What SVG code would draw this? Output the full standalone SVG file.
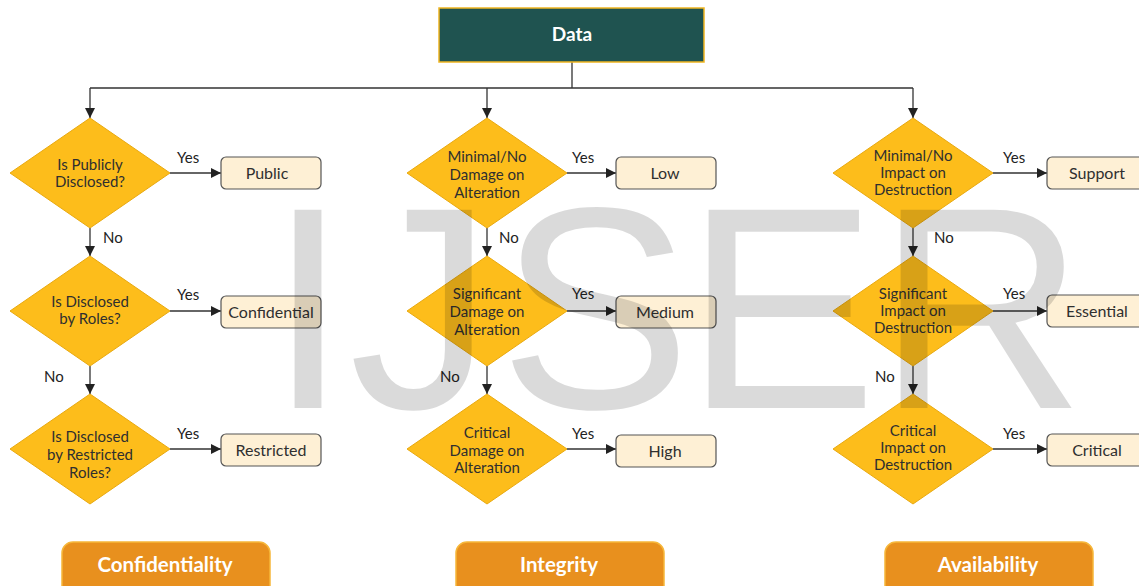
<svg xmlns="http://www.w3.org/2000/svg" width="1139" height="586" viewBox="0 0 1139 586">
  <style>
    .diamond { fill: #FDBD1B; stroke: #E9A90F; stroke-width: 1; }
    .box { fill: #FEF0D5; stroke: #555; stroke-width: 1.2; }
    .dtext { font-family: Lato, "Open Sans", sans-serif; font-size: 15px; fill: #2f2f2f; text-anchor: middle; }
    .btext { font-family: Lato, "Open Sans", sans-serif; font-size: 16px; fill: #2f2f2f; text-anchor: middle; }
    .lbl { font-family: Lato, "Open Sans", sans-serif; font-size: 15px; fill: #222; }
    .edge { stroke: #333; stroke-width: 1.3; fill: none; }
    .cat { fill: #E8901E; stroke: #F6B73A; stroke-width: 1.5; }
    .cattext { font-family: Lato, "Open Sans", sans-serif; font-size: 20.5px; font-weight: bold; fill: #fff; text-anchor: middle; }
  </style>
  <defs>
    <marker id="arrow" viewBox="0 0 10 10" refX="10" refY="5" markerWidth="10" markerHeight="10" markerUnits="userSpaceOnUse" orient="auto">
      <path d="M0,0 L10,5 L0,10 z" fill="#222"/>
    </marker>
  </defs>

  <!-- connectors -->
  <g id="connectors">
    <path class="edge" d="M572,62 V88 M90,88 H913"/>
    <path class="edge" d="M90,88 V118" marker-end="url(#arrow)"/>
    <path class="edge" d="M487,88 V118" marker-end="url(#arrow)"/>
    <path class="edge" d="M913,88 V118" marker-end="url(#arrow)"/>

    <!-- confidentiality column -->
    <path class="edge" d="M170,173 H221" marker-end="url(#arrow)"/>
    <path class="edge" d="M90,228 V256" marker-end="url(#arrow)"/>
    <path class="edge" d="M170,311 H221" marker-end="url(#arrow)"/>
    <path class="edge" d="M90,366 V394" marker-end="url(#arrow)"/>
    <path class="edge" d="M170,449 H221" marker-end="url(#arrow)"/>

    <!-- integrity column -->
    <path class="edge" d="M567,173 H616" marker-end="url(#arrow)"/>
    <path class="edge" d="M487,228 V256" marker-end="url(#arrow)"/>
    <path class="edge" d="M567,311 H616" marker-end="url(#arrow)"/>
    <path class="edge" d="M487,366 V394" marker-end="url(#arrow)"/>
    <path class="edge" d="M567,449 H616" marker-end="url(#arrow)"/>

    <!-- availability column -->
    <path class="edge" d="M993,173 H1047" marker-end="url(#arrow)"/>
    <path class="edge" d="M913,228 V256" marker-end="url(#arrow)"/>
    <path class="edge" d="M993,311 H1047" marker-end="url(#arrow)"/>
    <path class="edge" d="M913,366 V394" marker-end="url(#arrow)"/>
    <path class="edge" d="M993,449 H1047" marker-end="url(#arrow)"/>

    <!-- edge labels -->
    <text class="lbl" x="177" y="163">Yes</text>
    <text class="lbl" x="177" y="300">Yes</text>
    <text class="lbl" x="177" y="439">Yes</text>
    <text class="lbl" x="103" y="243">No</text>
    <text class="lbl" x="44" y="382">No</text>

    <text class="lbl" x="572" y="163">Yes</text>
    <text class="lbl" x="572" y="299">Yes</text>
    <text class="lbl" x="572" y="439">Yes</text>
    <text class="lbl" x="499" y="243">No</text>
    <text class="lbl" x="440" y="382">No</text>

    <text class="lbl" x="1003" y="163">Yes</text>
    <text class="lbl" x="1003" y="299">Yes</text>
    <text class="lbl" x="1003" y="439">Yes</text>
    <text class="lbl" x="934" y="243">No</text>
    <text class="lbl" x="875" y="382">No</text>
  </g>

  <!-- root -->
  <g id="data">
    <rect x="439" y="8" width="265" height="54" fill="#1F5350" stroke="#F0B520" stroke-width="1.5"/>
    <text x="572" y="41" font-family="Lato, 'Open Sans', sans-serif" font-size="19" font-weight="bold" fill="#fff" text-anchor="middle">Data</text>
  </g>

  <!-- confidentiality decisions -->
  <g id="c1">
    <polygon class="diamond" points="90,118 170,173 90,228 10,173"/>
    <text class="dtext" x="90" y="170">Is Publicly</text>
    <text class="dtext" x="90" y="187">Disclosed?</text>
  </g>
  <g id="c2">
    <polygon class="diamond" points="90,256 170,311 90,366 10,311"/>
    <text class="dtext" x="90" y="307">Is Disclosed</text>
    <text class="dtext" x="90" y="324">by Roles?</text>
  </g>
  <g id="c3">
    <polygon class="diamond" points="90,394 170,449 90,504 10,449"/>
    <text class="dtext" x="90" y="442">Is Disclosed</text>
    <text class="dtext" x="90" y="460">by Restricted</text>
    <text class="dtext" x="90" y="478">Roles?</text>
  </g>
  <g id="public">
    <rect class="box" x="221" y="157" width="100" height="32" rx="5"/>
    <text class="btext" x="267" y="179">Public</text>
  </g>
  <g id="confidential">
    <rect class="box" x="221" y="296" width="100" height="32" rx="5"/>
    <text class="btext" x="271" y="318">Confidential</text>
  </g>
  <g id="restricted">
    <rect class="box" x="221" y="434" width="100" height="32" rx="5"/>
    <text class="btext" x="271" y="456">Restricted</text>
  </g>

  <!-- integrity decisions -->
  <g id="i1">
    <polygon class="diamond" points="487,118 567,173 487,228 407,173"/>
    <text class="dtext" x="487" y="162">Minimal/No</text>
    <text class="dtext" x="487" y="180">Damage on</text>
    <text class="dtext" x="487" y="198">Alteration</text>
  </g>
  <g id="i2">
    <polygon class="diamond" points="487,256 567,311 487,366 407,311"/>
    <text class="dtext" x="487" y="299">Significant</text>
    <text class="dtext" x="487" y="317">Damage on</text>
    <text class="dtext" x="487" y="335">Alteration</text>
  </g>
  <g id="i3">
    <polygon class="diamond" points="487,394 567,449 487,504 407,449"/>
    <text class="dtext" x="487" y="438">Critical</text>
    <text class="dtext" x="487" y="456">Damage on</text>
    <text class="dtext" x="487" y="473">Alteration</text>
  </g>
  <g id="low">
    <rect class="box" x="616" y="157" width="100" height="32" rx="5"/>
    <text class="btext" x="665" y="179">Low</text>
  </g>
  <g id="medium">
    <rect class="box" x="616" y="296" width="100" height="32" rx="5"/>
    <text class="btext" x="665" y="318">Medium</text>
  </g>
  <g id="high">
    <rect class="box" x="616" y="435" width="100" height="32" rx="5"/>
    <text class="btext" x="665" y="457">High</text>
  </g>

  <!-- availability decisions -->
  <g id="a1">
    <polygon class="diamond" points="913,118 993,173 913,228 833,173"/>
    <text class="dtext" x="913" y="161">Minimal/No</text>
    <text class="dtext" x="913" y="178">Impact on</text>
    <text class="dtext" x="913" y="195">Destruction</text>
  </g>
  <g id="a2">
    <polygon class="diamond" points="913,256 993,311 913,366 833,311"/>
    <text class="dtext" x="913" y="299">Significant</text>
    <text class="dtext" x="913" y="316">Impact on</text>
    <text class="dtext" x="913" y="333">Destruction</text>
  </g>
  <g id="a3">
    <polygon class="diamond" points="913,394 993,449 913,504 833,449"/>
    <text class="dtext" x="913" y="436">Critical</text>
    <text class="dtext" x="913" y="453">Impact on</text>
    <text class="dtext" x="913" y="470">Destruction</text>
  </g>
  <g id="support">
    <rect class="box" x="1047" y="157" width="100" height="32" rx="5"/>
    <text class="btext" x="1097" y="179">Support</text>
  </g>
  <g id="essential">
    <rect class="box" x="1047" y="295" width="100" height="32" rx="5"/>
    <text class="btext" x="1097" y="317">Essential</text>
  </g>
  <g id="critical">
    <rect class="box" x="1047" y="434" width="100" height="32" rx="5"/>
    <text class="btext" x="1097" y="456">Critical</text>
  </g>

  <!-- category banners -->
  <g id="confidentiality">
    <rect class="cat" x="62" y="542" width="208" height="56" rx="11"/>
    <text class="cattext" x="165" y="572">Confidentiality</text>
  </g>
  <g id="integrity">
    <rect class="cat" x="456" y="542" width="208" height="56" rx="11"/>
    <text class="cattext" x="559" y="572">Integrity</text>
  </g>
  <g id="availability">
    <rect class="cat" x="885" y="542" width="208" height="56" rx="11"/>
    <text class="cattext" x="988" y="572">Availability</text>
  </g>

  <!-- translucent watermark lettering, each glyph placed on its own -->
  <text x="268 349 499 685 877" y="408" font-family="'Liberation Sans', Arial, sans-serif" font-size="288" fill="#000" fill-opacity="0.145">IJSER</text>
</svg>
